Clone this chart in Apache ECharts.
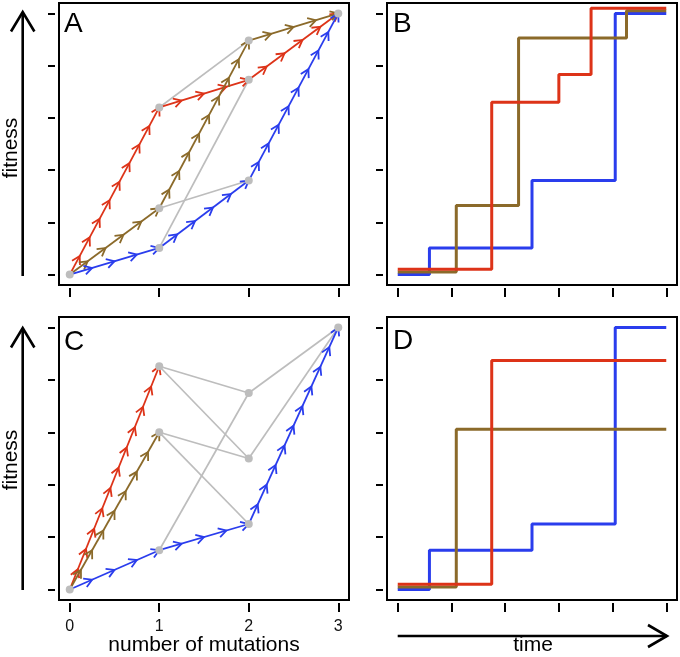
<!DOCTYPE html>
<html>
<head>
<meta charset="utf-8">
<script src="https://cdn.jsdelivr.net/npm/echarts@6/dist/echarts.min.js"></script>
<style>
  html, body { margin: 0; padding: 0; background: #fff; }
  #chart { width: 680px; height: 657px; }
</style>
</head>
<body>
<div id="chart"></div>
<script>
// genotype nodes [number of mutations, fitness]
const nodesA = [[0, 0], [1, 3.2], [1, 1.27], [1, 0.51], [2, 4.48], [2, 3.73], [2, 1.8], [3, 5]];
const greyA = [[1, 4], [2, 6], [3, 5]];
const redA = [0, 1, 5, 7];
const brownA = [0, 2, 4, 7];
const blueA = [0, 3, 6, 7];

const nodesC = [[0, 0], [1, 4.26], [1, 3.0], [1, 0.75], [2, 3.75], [2, 2.5], [2, 1.25], [3, 5]];
const greyC = [[1, 4], [1, 5], [2, 5], [2, 6], [3, 4], [4, 7], [5, 7]];
const redC = [0, 1];
const brownC = [0, 2];
const blueC = [0, 3, 6, 7];

// fitness over time [time, fitness]
const blueB = [[0, 0], [0.59, 0.51], [2.5, 1.8], [4.05, 5.0], [5, 5.0]];
const brownB = [[0, 0.05], [1.09, 1.32], [2.25, 4.53], [4.26, 5.05], [5, 5.05]];
const redB = [[0, 0.1], [1.75, 3.3], [3.0, 3.83], [3.6, 5.1], [5, 5.1]];

const blueD = [[0, 0], [0.59, 0.75], [2.5, 1.25], [4.05, 5.0], [5, 5.0]];
const brownD = [[0, 0.05], [1.09, 3.06], [5, 3.06]];
const redD = [[0, 0.1], [1.75, 4.37], [5, 4.37]];

const mutTicks = [0, 1, 2, 3];
const timeTicks = [0, 1, 2, 3, 4, 5];
const fitTicks = [0, 1, 2, 3, 4, 5];

const RED = '#dd3318';
const BLUE = '#2a3ded';
const BROWN = '#8b6a2a';
const GREY = '#bdbdbd';
const FONT = '"Liberation Sans", Arial, sans-serif';

const myChart = echarts.init(document.getElementById('chart'), null, { renderer: 'canvas' });

function xAxisConf(idx, ticks, min, max, showLabel) {
  return {
    type: 'value', gridIndex: idx, min: min, max: max, offset: 3,
    axisLine: { show: false, onZero: false },
    splitLine: { show: false },
    axisTick: { show: true, length: 9, customValues: ticks, lineStyle: { color: '#000', width: 2 } },
    axisLabel: { show: showLabel, customValues: ticks, margin: 16, fontSize: 16, color: '#111', fontFamily: FONT }
  };
}
function yAxisConf(idx) {
  return {
    type: 'value', gridIndex: idx, min: -0.2, max: 5.2, offset: 4,
    axisLine: { show: false, onZero: false },
    splitLine: { show: false },
    axisTick: { show: true, length: 7, customValues: fitTicks, lineStyle: { color: '#000', width: 2 } },
    axisLabel: { show: false, customValues: fitTicks }
  };
}

// grey edges of the genotype graph
function edgeSeries(nodes, edges, idx) {
  return {
    type: 'lines', coordinateSystem: 'cartesian2d', xAxisIndex: idx, yAxisIndex: idx, z: 1,
    silent: true,
    lineStyle: { color: GREY, width: 1.7, opacity: 1 },
    data: edges.map(e => ({ coords: [nodes[e[0]], nodes[e[1]]] }))
  };
}

// adaptive walk with repeated chevrons
function pathSeries(nodes, path, color, idx) {
  const pts = path.map(i => nodes[i]);
  return {
    type: 'custom', xAxisIndex: idx, yAxisIndex: idx, z: 2, silent: true,
    data: pts,
    renderItem: function (params, api) {
      const i = params.dataIndex;
      if (i === 0) return;
      const p0 = api.coord(pts[i - 1]);
      const p1 = api.coord(pts[i]);
      const dx = p1[0] - p0[0], dy = p1[1] - p0[1];
      const len = Math.sqrt(dx * dx + dy * dy);
      const ux = dx / len, uy = dy / len;
      const n = Math.max(1, Math.round(len / 22));
      const wing = 9, ang = 30 * Math.PI / 180;
      const ca = Math.cos(ang), sa = Math.sin(ang);
      const style = { stroke: color, lineWidth: 1.8, fill: null };
      const children = [{ type: 'line', shape: { x1: p0[0], y1: p0[1], x2: p1[0], y2: p1[1] }, style: style }];
      for (let k = 1; k <= n; k++) {
        const tx = p0[0] + dx * k / n, ty = p0[1] + dy * k / n;
        const w1 = [tx - wing * (ux * ca - uy * sa), ty - wing * (uy * ca + ux * sa)];
        const w2 = [tx - wing * (ux * ca + uy * sa), ty - wing * (uy * ca - ux * sa)];
        children.push({ type: 'polyline', shape: { points: [w1, [tx, ty], w2] }, style: style });
      }
      return { type: 'group', children: children };
    }
  };
}

function nodeSeries(nodes, idx) {
  return {
    type: 'scatter', xAxisIndex: idx, yAxisIndex: idx, z: 3, silent: true,
    symbolSize: 8, itemStyle: { color: GREY, opacity: 1 },
    data: nodes
  };
}

function stepSeries(data, color, idx) {
  return {
    type: 'line', step: 'end', xAxisIndex: idx, yAxisIndex: idx, silent: true,
    symbol: 'none', lineStyle: { color: color, width: 3 },
    data: data
  };
}

function txt(text, x, y, size, align, rot) {
  return {
    type: 'text', x: x, y: y, rotation: rot || 0, silent: true,
    style: { text: text, x: 0, y: 0, font: size + 'px ' + FONT, fill: '#000', align: align, verticalAlign: 'middle' }
  };
}
function arrow(points) {
  return { type: 'polyline', silent: true, shape: { points: points }, style: { stroke: '#000', lineWidth: 2.6, fill: null } };
}

const option = {
  backgroundColor: '#fff',
  animation: false,
  grid: [
    { left: 59, top: 3, width: 290, height: 282, show: true, borderColor: '#000', borderWidth: 2, backgroundColor: 'transparent' },
    { left: 387, top: 3, width: 290, height: 282, show: true, borderColor: '#000', borderWidth: 2, backgroundColor: 'transparent' },
    { left: 59, top: 317, width: 290, height: 283, show: true, borderColor: '#000', borderWidth: 2, backgroundColor: 'transparent' },
    { left: 387, top: 317, width: 290, height: 283, show: true, borderColor: '#000', borderWidth: 2, backgroundColor: 'transparent' }
  ],
  xAxis: [
    xAxisConf(0, mutTicks, -0.12, 3.12, false),
    xAxisConf(1, timeTicks, -0.2, 5.2, false),
    xAxisConf(2, mutTicks, -0.12, 3.12, true),
    xAxisConf(3, timeTicks, -0.2, 5.2, false)
  ],
  yAxis: [yAxisConf(0), yAxisConf(1), yAxisConf(2), yAxisConf(3)],
  series: [
    edgeSeries(nodesA, greyA, 0),
    pathSeries(nodesA, redA, RED, 0),
    pathSeries(nodesA, brownA, BROWN, 0),
    pathSeries(nodesA, blueA, BLUE, 0),
    nodeSeries(nodesA, 0),
    stepSeries(blueB, BLUE, 1),
    stepSeries(brownB, BROWN, 1),
    stepSeries(redB, RED, 1),
    edgeSeries(nodesC, greyC, 2),
    pathSeries(nodesC, redC, RED, 2),
    pathSeries(nodesC, brownC, BROWN, 2),
    pathSeries(nodesC, blueC, BLUE, 2),
    nodeSeries(nodesC, 2),
    stepSeries(blueD, BLUE, 3),
    stepSeries(brownD, BROWN, 3),
    stepSeries(redD, RED, 3)
  ],
  graphic: [
    txt('A', 64, 24, 28, 'left'),
    txt('B', 393, 24, 28, 'left'),
    txt('C', 64, 342.5, 28, 'left'),
    txt('D', 393, 341, 28, 'left'),
    txt('fitness', 11, 148, 21, 'center', Math.PI / 2),
    txt('fitness', 11, 460, 21, 'center', Math.PI / 2),
    txt('number of mutations', 204, 645.5, 21, 'center'),
    txt('time', 533, 645.5, 21, 'center'),
    arrow([[22.7, 276], [22.7, 12]]),
    arrow([[11, 31.5], [22.7, 12], [34.4, 31.5]]),
    arrow([[22.7, 590], [22.7, 328]]),
    arrow([[11, 347.5], [22.7, 328], [34.4, 347.5]]),
    arrow([[397.7, 636], [667, 636]]),
    arrow([[648, 625], [667, 636], [648, 647]])
  ]
};

myChart.setOption(option);
</script>
</body>
</html>
